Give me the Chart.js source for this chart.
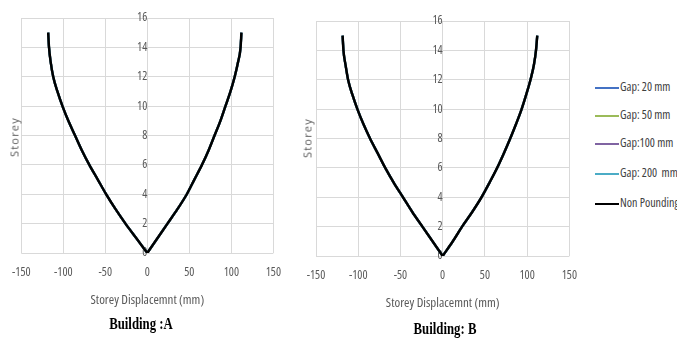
<!DOCTYPE html>
<html><head><meta charset="utf-8">
<script src="https://cdn.jsdelivr.net/npm/chart.js@4.4.1/dist/chart.umd.min.js"></script>
<style>
html,body{margin:0;padding:0;background:#fff;width:677px;height:338px;overflow:hidden;position:relative;font-family:"Open Sans",sans-serif;}
.cv{position:absolute;top:0;}
.ytitle{position:absolute;font-family:"Open Sans",sans-serif;font-size:11px;color:#595959;letter-spacing:1.2px;transform:translate(-50%,-50%) rotate(-90deg);white-space:nowrap;}
.bld{position:absolute;font-family:"Liberation Serif","Times New Roman",serif;font-weight:bold;font-size:16px;color:#000;white-space:nowrap;transform:translate(-50%,-50%) scaleX(0.8);}
.leg{position:absolute;left:595px;font-size:12px;font-stretch:semi-condensed;color:#404040;white-space:nowrap;line-height:16px;}
.leg span.l{display:inline-block;width:24px;height:2px;vertical-align:middle;margin-right:1px;}
</style></head>
<body>
<div class="cv" style="left:0;width:293px;height:338px;"><canvas id="cA"></canvas></div>
<div class="cv" style="left:290px;width:299px;height:338px;"><canvas id="cB"></canvas></div>
<div class="ytitle" style="left:14px;top:137px;">Storey</div>
<div class="ytitle" style="left:307px;top:138px;">Storey</div>
<div class="bld" style="left:141px;top:324px;">Building :A</div>
<div class="bld" style="left:445px;top:329px;">Building: B</div>
<div id="legend"></div>
<script>
const storeys = [0,1,2,3,4,5,6,7,8,9,10,11,12,13,14,15];
const seriesNames = ["Gap: 20 mm","Gap: 50 mm","Gap:100 mm","Gap: 200  mm","Non Pounding"];
const seriesColors = ["#4472C4","#9BBB59","#8064A2","#4BACC6","#000000"];

// Building A storey displacement (mm): negative direction, positive direction (storey 0..15)
const A_neg_gap20  = [0,-13,-26,-38,-49,-59,-69,-78,-86,-94,-101,-107,-112,-115,-117,-118];
const A_neg_gap50  = [0,-13,-26,-38,-49,-59,-69,-78,-86,-94,-101,-107,-112,-115,-117,-118];
const A_neg_gap100 = [0,-13,-26,-38,-49,-59,-69,-78,-86,-94,-101,-107,-112,-115,-117,-118];
const A_neg_gap200 = [0,-13,-26,-38,-49,-59,-69,-78,-86,-94,-101,-107,-112,-115,-117,-118];
const A_neg_nonP   = [0,-13,-26,-38,-49,-59,-69,-78,-86,-94,-101,-107,-112,-115,-117,-118];
const A_pos_gap20  = [0,12,24,36,47,56,65,73,80,87,93,99,104,108,111,112];
const A_pos_gap50  = [0,12,24,36,47,56,65,73,80,87,93,99,104,108,111,112];
const A_pos_gap100 = [0,12,24,36,47,56,65,73,80,87,93,99,104,108,111,112];
const A_pos_gap200 = [0,12,24,36,47,56,65,73,80,87,93,99,104,108,111,112];
const A_pos_nonP   = [0,12,24,36,47,56,65,73,80,87,93,99,104,108,111,112];

// Building B storey displacement (mm)
const B_neg_gap20  = [0,-12,-24,-36,-47,-58,-68,-77,-86,-94,-101,-107,-112,-115,-117.5,-118.5];
const B_neg_gap50  = [0,-12,-24,-36,-47,-58,-68,-77,-86,-94,-101,-107,-112,-115,-117.5,-118.5];
const B_neg_gap100 = [0,-12,-24,-36,-47,-58,-68,-77,-86,-94,-101,-107,-112,-115,-117.5,-118.5];
const B_neg_gap200 = [0,-12,-24,-36,-47,-58,-68,-77,-86,-94,-101,-107,-112,-115,-117.5,-118.5];
const B_neg_nonP   = [0,-12,-24,-36,-47,-58,-68,-77,-86,-94,-101,-107,-112,-115,-117.5,-118.5];
const B_pos_gap20  = [0,12,23,35,46,55.5,64.5,72.5,80,87,93.5,99,104,108,110.5,112];
const B_pos_gap50  = [0,12,23,35,46,55.5,64.5,72.5,80,87,93.5,99,104,108,110.5,112];
const B_pos_gap100 = [0,12,23,35,46,55.5,64.5,72.5,80,87,93.5,99,104,108,110.5,112];
const B_pos_gap200 = [0,12,23,35,46,55.5,64.5,72.5,80,87,93.5,99,104,108,110.5,112];
const B_pos_nonP   = [0,12,23,35,46,55.5,64.5,72.5,80,87,93.5,99,104,108,110.5,112];

const xTicks = [-150,-100,-50,0,50,100,150];
const yMax = 16;
const tickFont = {family:'"Open Sans",sans-serif', size:12, weight:'condensed'};
const titleFont = {family:'"Open Sans",sans-serif', size:13, weight:'condensed'};

function mk(xs){ return xs.map((x,i)=>({x:x,y:storeys[i]})); }

function makeChart(id, negArrays, posArrays, pad, bottomH, titlePad){
  const datasets = [];
  [negArrays, posArrays].forEach(group => {
    group.forEach((arr,i) => {
      datasets.push({
        label: seriesNames[i],
        data: mk(arr),
        borderColor: seriesColors[i],
        backgroundColor: seriesColors[i],
        borderWidth: i===4 ? 2.5 : 2.25,
        pointRadius: 0,
        showLine: true,
        cubicInterpolationMode: 'monotone',
        order: i===4 ? 0 : 5-i
      });
    });
  });
  return new Chart(document.getElementById(id), {
    type: 'scatter',
    data: {datasets},
    options: {
      responsive: true, maintainAspectRatio: false, animation: false,
      layout: {padding: pad},
      plugins: {legend: {display:false}, tooltip: {enabled:false}},
      scales: {
        x: {
          type:'linear', min:-150, max:150, position:'bottom',
          afterBuildTicks: s => { s.ticks = xTicks.map(v=>({value:v})); },
          afterFit: s => { s.height = bottomH; },
          grid: {color:'#d9d9d9', lineWidth:1, drawTicks:false},
          border: {display:false},
          ticks: {padding:12, color:'#595959', font:tickFont, maxRotation:0},
          title: {display:true, text:'Storey Displacemnt (mm)', color:'#595959', padding:{top:0,bottom:titlePad}, font:titleFont}
        },
        y: {
          type:'linear', min:0, max:yMax, position:{x:0},
          ticks: {stepSize:2, padding:8, color:'#595959', font:tickFont},
          grid: {color:'#d9d9d9', lineWidth:1, drawTicks:false},
          border: {display:false}
        }
      }
    }
  });
}

makeChart('cA', [A_neg_gap20,A_neg_gap50,A_neg_gap100,A_neg_gap200,A_neg_nonP],
               [A_pos_gap20,A_pos_gap50,A_pos_gap100,A_pos_gap200,A_pos_nonP],
               {top:18,left:21,right:17,bottom:0}, 85, 30);
makeChart('cB', [B_neg_gap20,B_neg_gap50,B_neg_gap100,B_neg_gap200,B_neg_nonP],
               [B_pos_gap20,B_pos_gap50,B_pos_gap100,B_pos_gap200,B_pos_nonP],
               {top:21,left:26,right:11,bottom:0}, 82, 27);

const legY = [87,115,143,173,203];
const lg = document.getElementById('legend');
seriesNames.forEach((n,i)=>{
  const d = document.createElement('div');
  d.className='leg';
  d.style.top = (legY[i]-8)+'px';
  d.innerHTML = '<span class="l" style="background:'+seriesColors[i]+'"></span>'+n.replace(/  /g,' &nbsp;');
  lg.appendChild(d);
});
</script>
</body></html>
